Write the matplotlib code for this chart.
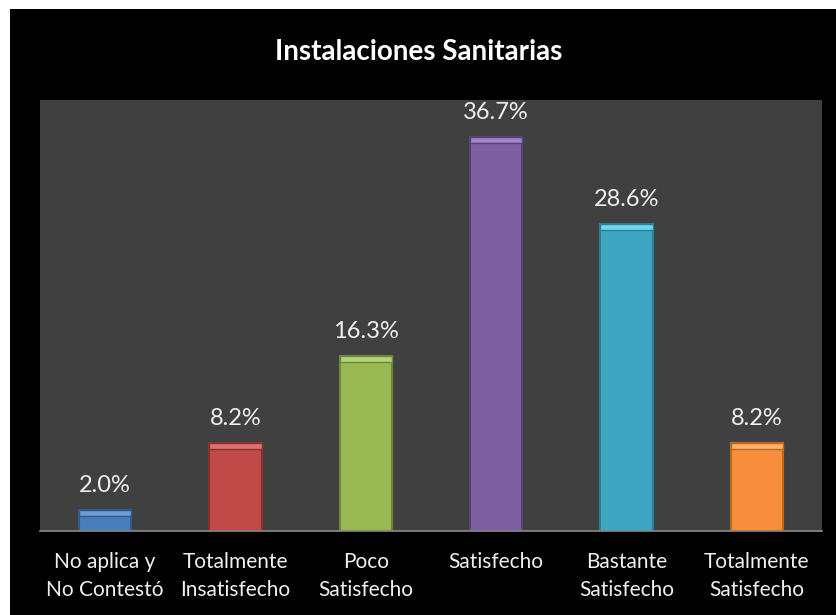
import matplotlib.pyplot as plt
from matplotlib.patches import Rectangle

categories = ["No aplica y\nNo Contestó", "Totalmente\nInsatisfecho", "Poco\nSatisfecho",
              "Satisfecho", "Bastante\nSatisfecho", "Totalmente\nSatisfecho"]
values = [2.0, 8.2, 16.3, 36.7, 28.6, 8.2]
colors = ["#4A7EBB", "#BE4B48", "#98B954", "#7D60A0", "#3FA6C2", "#F58F3C"]
edges = ["#2F5A8C", "#8C2F2D", "#6B8A35", "#58437A", "#2C7F96", "#C0661E"]
caps = ["#6F9BD6", "#DD7370", "#B6D27A", "#A084C4", "#6ED8F0", "#FFB36A"]

plt.rcParams["font.family"] = ["Lato", "DejaVu Sans"]

fig = plt.figure(figsize=(8.37, 6.15), dpi=100, facecolor="white")
# black chart area inside a thin white margin
fig.patches.append(Rectangle((10 / 837, 0), 1, 1 - 9 / 615, transform=fig.transFigure,
                             facecolor="black", edgecolor="none", zorder=-1))

ax = fig.add_axes([40 / 837, 1 - 531 / 615, 782 / 837, 431 / 615])
ax.set_facecolor("#404040")
x = range(len(values))
bars = ax.bar(x, values, width=0.4, color=colors, edgecolor=edges, linewidth=1.5, zorder=2)
# lighter bevel at the top of each bar
cap_h = 0.6
ax.bar(x, [cap_h] * len(values), width=0.4, bottom=[v - cap_h for v in values],
       color=caps, edgecolor=edges, linewidth=1.0, zorder=3)

for b, v in zip(bars, values):
    ax.annotate(f"{v:.1f}%", (b.get_x() + b.get_width() / 2, v), xytext=(0, 10),
                textcoords="offset points", ha="center", va="bottom",
                color="#f0f0f0", fontsize=17)

ax.set_xlim(-0.5, len(values) - 0.5)
ax.set_ylim(0, 40.1)
ax.set_yticks([])
ax.set_xticks(list(x))
ax.set_xticklabels(categories, color="#f0f0f0", fontsize=15, linespacing=1.5)
ax.tick_params(axis="x", length=0, pad=15)
for s in ["top", "right", "left"]:
    ax.spines[s].set_visible(False)
ax.spines["bottom"].set_color("#8a8a8a")
ax.spines["bottom"].set_linewidth(1.2)

fig.text(0.5, 1 - 52 / 615, "Instalaciones Sanitarias", ha="center", va="center",
         color="white", fontsize=20, fontweight="bold")

fig.savefig("out.png", dpi=100, facecolor=fig.get_facecolor())
